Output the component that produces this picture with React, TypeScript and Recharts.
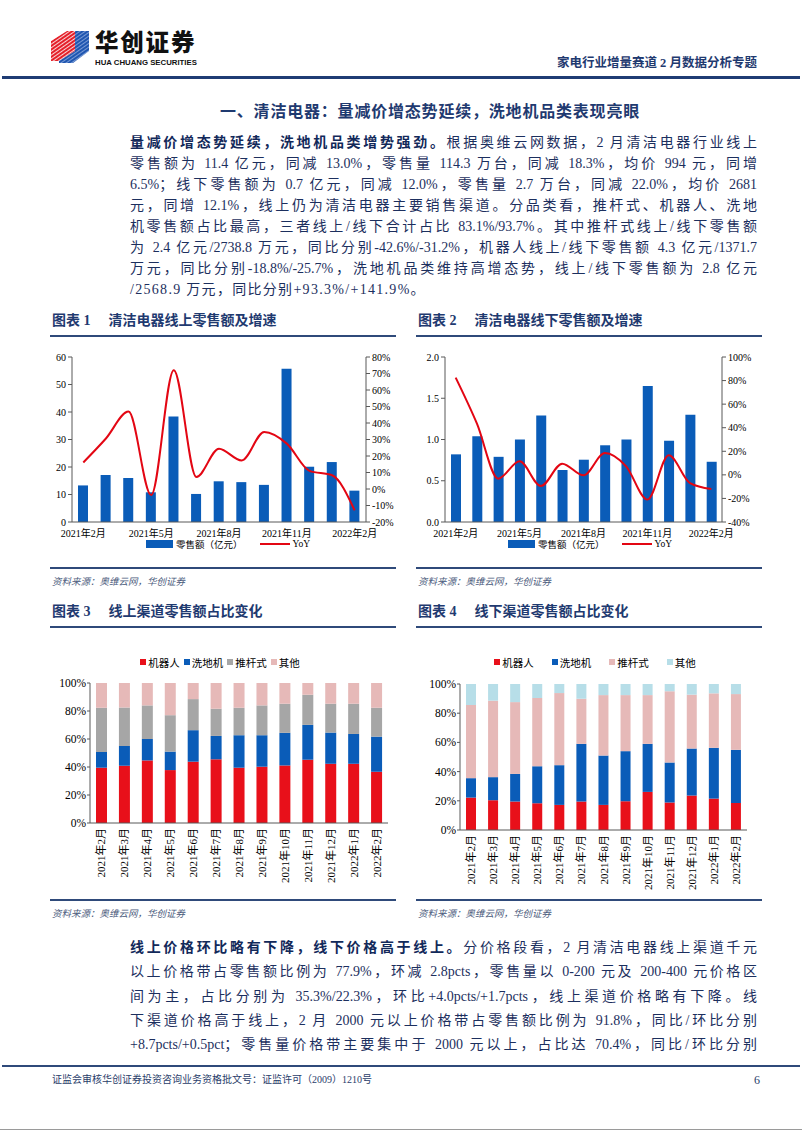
import React from "react";
import { ComposedChart, BarChart, Bar, Line, XAxis, YAxis, Legend } from "recharts";

const MONTHS = [
  "2021年2月", "2021年3月", "2021年4月", "2021年5月", "2021年6月", "2021年7月", "2021年8月",
  "2021年9月", "2021年10月", "2021年11月", "2021年12月", "2022年1月", "2022年2月",
];

// 图表1 线上零售额（亿元）及同比（%）
const ONLINE_SALES = [13.3, 17.1, 16.0, 10.8, 38.4, 10.2, 14.8, 14.5, 13.5, 55.7, 20.1, 21.8, 11.4];
const ONLINE_YOY = [16.1, 30.6, 46.9, -3.7, 72.0, 7.3, 24.4, 17.3, 34.6, 27.5, 11.0, 8.3, -13.0];

// 图表2 线下零售额（亿元）及同比（%）
const OFFLINE_SALES = [0.82, 1.04, 0.79, 1.0, 1.29, 0.63, 0.755, 0.93, 1.0, 1.65, 0.985, 1.3, 0.73];
const OFFLINE_YOY = [82.5, 43.4, -3.2, 11.5, -9.5, 9.5, -0.4, 18.5, 7.2, -21.0, 16.6, -7.0, -12.0];

// 图表3 线上渠道占比（%）
const ON_ROBOT = [39.5, 40.9, 44.7, 37.8, 43.8, 45.5, 39.5, 40.2, 41.1, 45.2, 42.3, 42.3, 36.6];
const ON_WASHER = [11.2, 14.1, 15.3, 13.2, 22.5, 16.7, 23.2, 22.5, 23.3, 24.9, 22.3, 21.3, 25.1];
const ON_PUSH = [31.6, 27.5, 24.0, 26.0, 22.2, 19.4, 19.6, 21.3, 20.8, 21.5, 20.6, 21.6, 20.6];
const ON_OTHER = [17.7, 17.5, 16.0, 23.0, 11.5, 18.4, 17.7, 16.0, 14.8, 8.4, 14.8, 14.8, 17.7];

// 图表4 线下渠道占比（%）
const OFF_ROBOT = [22.2, 20.4, 19.5, 18.3, 17.2, 19.5, 17.2, 19.7, 26.1, 18.8, 23.6, 21.5, 18.5];
const OFF_WASHER = [13.3, 15.8, 18.9, 25.4, 27.2, 39.5, 33.8, 34.3, 32.9, 27.4, 32.2, 34.8, 36.4];
const OFF_PUSH = [50.1, 52.4, 49.2, 46.7, 49.4, 30.9, 41.4, 38.4, 33.4, 48.8, 36.9, 37.3, 38.2];
const OFF_OTHER = [14.4, 11.4, 12.4, 9.6, 6.2, 10.1, 7.6, 7.6, 7.6, 5.0, 7.3, 6.4, 6.9];

const LEFT_TICKS_1 = [0, 10, 20, 30, 40, 50, 60];
const RIGHT_TICKS_1 = [-20, -10, 0, 10, 20, 30, 40, 50, 60, 70, 80];
const LEFT_TICKS_2 = [0, 0.5, 1.0, 1.5, 2.0];
const RIGHT_TICKS_2 = [-40, -20, 0, 20, 40, 60, 80, 100];
const PCT_TICKS = [0, 10, 20, 30, 40, 50, 60, 70, 80, 90, 100];

const SHARE_NAMES = ["机器人", "洗地机", "推杆式", "其他"];

const PARA1 = [
  ["量减价增态势延续，洗地机品类增势强劲。", "根据奥维云网数据，2 月清洁电器行业线上"],
  ["", "零售额为 11.4 亿元，同减 13.0%，零售量 114.3 万台，同减 18.3%，均价 994 元，同增"],
  ["", "6.5%；线下零售额为 0.7 亿元，同减 12.0%，零售量 2.7 万台，同减 22.0%，均价 2681"],
  ["", "元，同增 12.1%，线上仍为清洁电器主要销售渠道。分品类看，推杆式、机器人、洗地"],
  ["", "机零售额占比最高，三者线上/线下合计占比 83.1%/93.7%。其中推杆式线上/线下零售额"],
  ["", "为 2.4 亿元/2738.8 万元，同比分别-42.6%/-31.2%，机器人线上/线下零售额 4.3 亿元/1371.7"],
  ["", "万元，同比分别-18.8%/-25.7%，洗地机品类维持高增态势，线上/线下零售额为 2.8 亿元"],
  ["", "/2568.9 万元，同比分别+93.3%/+141.9%。"],
];

const PARA2 = [
  ["线上价格环比略有下降，线下价格高于线上。", "分价格段看，2 月清洁电器线上渠道千元"],
  ["", "以上价格带占零售额比例为 77.9%，环减 2.8pcts，零售量以 0-200 元及 200-400 元价格区"],
  ["", "间为主，占比分别为 35.3%/22.3%，环比+4.0pcts/+1.7pcts，线上渠道价格略有下降。线"],
  ["", "下渠道价格高于线上，2 月 2000 元以上价格带占零售额比例为 91.8%，同比/环比分别"],
  ["", "+8.7pcts/+0.5pct；零售量价格带主要集中于 2000 元以上，占比达 70.4%，同比/环比分别"],
];

const onlineData = MONTHS.map((m, i) => ({ month: m, sales: ONLINE_SALES[i], yoy: ONLINE_YOY[i] }));
const offlineData = MONTHS.map((m, i) => ({ month: m, sales: OFFLINE_SALES[i], yoy: OFFLINE_YOY[i] }));
const onShareData = MONTHS.map((m, i) => ({
  month: m, robot: ON_ROBOT[i], washer: ON_WASHER[i], push: ON_PUSH[i], other: ON_OTHER[i],
}));
const offShareData = MONTHS.map((m, i) => ({
  month: m, robot: OFF_ROBOT[i], washer: OFF_WASHER[i], push: OFF_PUSH[i], other: OFF_OTHER[i],
}));

const SERIF = "'Liberation Serif', 'Noto Sans CJK SC', serif";
const BODY_FONT = "'Liberation Serif', 'Noto Sans CJK SC', serif";
const NAVY = "#1c2f5e";
const RULE = "#2f4a7a";
const BAR_BLUE = "#0a5cb8";
const LINE_RED = "#e30613";
const SHARE_ON = ["#e8101a", "#0a5cb8", "#a6a6a6", "#e6b9b8"];
const SHARE_OFF = ["#e8101a", "#0a5cb8", "#e6b9b8", "#b7dee8"];
const AXIS = "#595959";

const tickFont = (size: number) => ({ fontSize: size, fill: "#000", fontFamily: SERIF });

function BarLineLegend({ shift }: { shift: number }) {
  return (
    <div style={{ display: "flex", justifyContent: "center", alignItems: "center", height: 22, fontSize: 9.5, fontFamily: SERIF, color: "#000", paddingLeft: shift > 0 ? shift : 0, paddingRight: shift < 0 ? -shift : 0 }}>
      <span style={{ display: "inline-block", width: 27, height: 8, background: BAR_BLUE, marginRight: 3 }} />
      <span>零售额（亿元）</span>
      <span style={{ display: "inline-block", width: 30, height: 2, background: LINE_RED, marginLeft: 18, marginRight: 2 }} />
      <span>YoY</span>
    </div>
  );
}

function ShareLegend({ colors, gap }: { colors: string[]; gap: number }) {
  return (
    <div style={{ display: "flex", justifyContent: "center", alignItems: "center", height: 20, fontSize: 10.5, fontFamily: SERIF, color: "#000" }}>
      {SHARE_NAMES.map((n, i) => (
        <span key={n} style={{ display: "flex", alignItems: "center", marginLeft: i === 0 ? 0 : gap }}>
          <span style={{ display: "inline-block", width: 6, height: 6, background: colors[i], marginRight: 2 }} />
          {n}
        </span>
      ))}
    </div>
  );
}

function RotatedTick(props: any) {
  const { x, y, payload } = props;
  return (
    <text x={x} y={y} transform={`rotate(-90, ${x}, ${y})`} textAnchor="end" dominantBaseline="central" fontSize={11} fill="#000" fontFamily={SERIF}>
      {payload.value}
    </text>
  );
}

function OnlineChart() {
  return (
    <ComposedChart width={360} height={215} data={onlineData} margin={{ top: 12, right: 0, bottom: 22, left: 0 }}>
      <XAxis dataKey="month" interval={2} tickLine={false} axisLine={{ stroke: AXIS }} tick={tickFont(10)} height={16} />
      <YAxis yAxisId="l" domain={[0, 60]} ticks={LEFT_TICKS_1} width={32} tickSize={4} axisLine={{ stroke: AXIS }} tickLine={{ stroke: AXIS }} tick={tickFont(10)} />
      <YAxis yAxisId="r" orientation="right" domain={[-20, 80]} ticks={RIGHT_TICKS_1} width={34} tickSize={4} axisLine={{ stroke: AXIS }} tickLine={{ stroke: AXIS }} tick={tickFont(10)} tickFormatter={(v) => `${v}%`} />
      <Bar yAxisId="l" dataKey="sales" fill={BAR_BLUE} barSize={10} isAnimationActive={false} />
      <Line yAxisId="r" dataKey="yoy" type="monotone" stroke={LINE_RED} strokeWidth={2} dot={false} isAnimationActive={false} />
      <Legend verticalAlign="middle" align="center" wrapperStyle={{ top: 188, left: 0, width: 360 }} content={() => <BarLineLegend shift={16} />} />
    </ComposedChart>
  );
}

function OfflineChart() {
  return (
    <ComposedChart width={370} height={215} data={offlineData} margin={{ top: 12, right: 18, bottom: 22, left: 0 }}>
      <XAxis dataKey="month" interval={2} tickLine={false} axisLine={{ stroke: AXIS }} tick={tickFont(10)} height={16} />
      <YAxis yAxisId="l" domain={[0, 2]} ticks={LEFT_TICKS_2} width={35} tickSize={4} axisLine={{ stroke: AXIS }} tickLine={{ stroke: AXIS }} tick={tickFont(10)} tickFormatter={(v) => Number(v).toFixed(1)} />
      <YAxis yAxisId="r" orientation="right" domain={[-40, 100]} ticks={RIGHT_TICKS_2} width={40} tickSize={4} axisLine={{ stroke: AXIS }} tickLine={{ stroke: AXIS }} tick={tickFont(10)} tickFormatter={(v) => `${v}%`} />
      <Bar yAxisId="l" dataKey="sales" fill={BAR_BLUE} barSize={10} isAnimationActive={false} />
      <Line yAxisId="r" dataKey="yoy" type="monotone" stroke={LINE_RED} strokeWidth={2} dot={false} isAnimationActive={false} />
      <Legend verticalAlign="middle" align="center" wrapperStyle={{ top: 188, left: 0, width: 370 }} content={() => <BarLineLegend shift={-10} />} />
    </ComposedChart>
  );
}

function ShareChart({ data, colors, width, right, top, xHeight, barSize, gap }: any) {
  return (
    <BarChart width={width} height={250} data={data} margin={{ top, right, bottom: 0, left: 0 }}>
      <XAxis dataKey="month" interval={0} tickLine={false} tickSize={3} axisLine={{ stroke: AXIS }} tick={<RotatedTick />} height={xHeight} />
      <YAxis domain={[0, 100]} ticks={PCT_TICKS} width={50} tickSize={3} tickMargin={1} axisLine={{ stroke: AXIS }} tickLine={{ stroke: AXIS }} tick={tickFont(11.5)} tickFormatter={(v) => `${v}%`} />
      <Bar dataKey="robot" stackId="s" fill={colors[0]} barSize={barSize} isAnimationActive={false} />
      <Bar dataKey="washer" stackId="s" fill={colors[1]} barSize={barSize} isAnimationActive={false} />
      <Bar dataKey="push" stackId="s" fill={colors[2]} barSize={barSize} isAnimationActive={false} />
      <Bar dataKey="other" stackId="s" fill={colors[3]} barSize={barSize} isAnimationActive={false} />
      <Legend verticalAlign="middle" align="center" wrapperStyle={{ top: 12, left: 0, width }} content={() => <ShareLegend colors={colors} gap={gap} />} />
    </BarChart>
  );
}

function Abs({ x, y, w, h, children, style }: any) {
  return <div style={{ position: "absolute", left: x, top: y, width: w, height: h, ...style }}>{children}</div>;
}

function FigTitle({ x, y, num, text }: any) {
  return (
    <>
      <Abs x={x} y={y} w={346} h={20} style={{ fontSize: 14, fontWeight: 700, color: "#1f3a70", fontFamily: BODY_FONT, lineHeight: "20px", whiteSpace: "nowrap" }}>
        <span>图表 {num}</span>
        <span style={{ marginLeft: 18 }}>{text}</span>
      </Abs>
      <Abs x={x - 2} y={y + 24} w={346} h={2} style={{ background: RULE }} />
    </>
  );
}

function Source({ x, y }: any) {
  return (
    <>
      <Abs x={x - 2} y={y - 14} w={346} h={2} style={{ background: RULE }} />
      <Abs x={x} y={y - 7} w={300} h={16} style={{ fontSize: 9.5, fontStyle: "italic", color: "#4b5b7c", fontFamily: BODY_FONT, lineHeight: "16px" }}>
        资料来源：奥维云网，华创证券
      </Abs>
    </>
  );
}

function Paragraph({ lines, top, step, lastLoose }: any) {
  return (
    <>
      {lines.map((ln: string[], i: number) => {
        const isLast = lastLoose && i === lines.length - 1;
        return (
          <div
            key={i}
            style={{
              position: "absolute", left: 130, top: top + i * step - 10, width: 627, height: 20, lineHeight: "20px",
              fontSize: 14, fontFamily: BODY_FONT, color: NAVY, whiteSpace: "nowrap",
              textAlign: isLast ? "left" : "justify", textAlignLast: isLast ? "left" : "justify",
              letterSpacing: isLast ? 1.3 : 0,
            }}
          >
            {ln[0] && <b style={{ color: "#12295a" }}>{ln[0]}</b>}
            {ln[1]}
          </div>
        );
      })}
    </>
  );
}

function Logo() {
  return (
    <svg width={40} height={36} style={{ position: "absolute", left: 51, top: 29 }}>
      <defs>
        <pattern id="stripeR" width="3" height="3" patternUnits="userSpaceOnUse" patternTransform="rotate(-35)">
          <rect width="3" height="3" fill="#e5202a" />
          <rect width="3" height="0.8" fill="#fff" />
        </pattern>
        <pattern id="stripeB" width="3" height="3" patternUnits="userSpaceOnUse" patternTransform="rotate(-35)">
          <rect width="3" height="3" fill="#1f56b0" />
          <rect width="3" height="0.7" fill="#9fb8e6" />
        </pattern>
      </defs>
      <polygon points="0,12 16,2 24,2 24,22 8,32 0,32" fill="url(#stripeR)" />
      <polygon points="24,2 38,2 38,22 22,34 8,34 8,32 24,22" fill="url(#stripeB)" />
    </svg>
  );
}

export default function App() {
  return (
    <div lang="zh-CN" style={{ position: "absolute", left: 0, top: 0, width: 802, height: 1133, background: "#fff", overflow: "hidden", fontFamily: BODY_FONT }}>
      {/* header */}
      <Logo />
      <Abs x={95} y={29} w={140} h={25} style={{ fontFamily: "'Noto Sans CJK SC'", fontWeight: 900, fontSize: 23.5, letterSpacing: 1.8, lineHeight: "25px", color: "#111" }}>
        华创证券
      </Abs>
      <Abs x={95} y={59} w={140} h={8} style={{ fontFamily: "'Liberation Sans', Arial", fontWeight: 700, fontSize: 7.8, lineHeight: "8px", color: "#111", whiteSpace: "nowrap" }}>
        HUA CHUANG SECURITIES
      </Abs>
      <Abs x={457} y={54} w={300} h={18} style={{ textAlign: "right", fontSize: 12.5, fontWeight: 700, color: "#1f3a70", lineHeight: "18px" }}>
        家电行业增量赛道 2 月数据分析专题
      </Abs>
      <Abs x={2} y={76} w={798} h={3} style={{ background: "#1f3c74" }} />

      {/* section title */}
      <Abs x={220} y={101} w={500} h={22} style={{ fontSize: 16, fontWeight: 700, color: "#1f3a70", lineHeight: "22px", letterSpacing: 0.8, whiteSpace: "nowrap" }}>
        一、清洁电器：量减价增态势延续，洗地机品类表现亮眼
      </Abs>

      <Paragraph lines={PARA1} top={143} step={21} lastLoose />

      <FigTitle x={52} y={311} num={1} text="清洁电器线上零售额及增速" />
      <FigTitle x={418} y={311} num={2} text="清洁电器线下零售额及增速" />

      <div style={{ position: "absolute", left: 40, top: 345 }}>
        <OnlineChart />
      </div>
      <div style={{ position: "absolute", left: 410, top: 345 }}>
        <OfflineChart />
      </div>

      <Source x={52} y={581} />
      <Source x={418} y={581} />

      <FigTitle x={52} y={602} num={3} text="线上渠道零售额占比变化" />
      <FigTitle x={418} y={602} num={4} text="线下渠道零售额占比变化" />

      <div style={{ position: "absolute", left: 40, top: 640 }}>
        <ShareChart data={onShareData} colors={SHARE_ON} width={360} right={12} top={43} xHeight={67} barSize={11} gap={4} />
      </div>
      <div style={{ position: "absolute", left: 410, top: 640 }}>
        <ShareChart data={offShareData} colors={SHARE_OFF} width={370} right={33} top={44} xHeight={60} barSize={10} gap={18} />
      </div>

      <Source x={52} y={913} />
      <Source x={418} y={913} />

      <Paragraph lines={PARA2} top={948} step={24.3} />

      {/* footer */}
      <Abs x={2} y={1065} w={798} h={2} style={{ background: RULE }} />
      <Abs x={52} y={1072} w={500} h={16} style={{ fontSize: 10, color: "#2a3d6a", lineHeight: "16px", whiteSpace: "nowrap" }}>
        证监会审核华创证券投资咨询业务资格批文号：证监许可（2009）1210号
      </Abs>
      <Abs x={700} y={1071} w={60} h={18} style={{ fontSize: 12, color: "#2a3d6a", lineHeight: "18px", textAlign: "right" }}>
        6
      </Abs>
      <Abs x={0} y={1129} w={802} h={1} style={{ background: "#9a9a9a" }} />
    </div>
  );
}
